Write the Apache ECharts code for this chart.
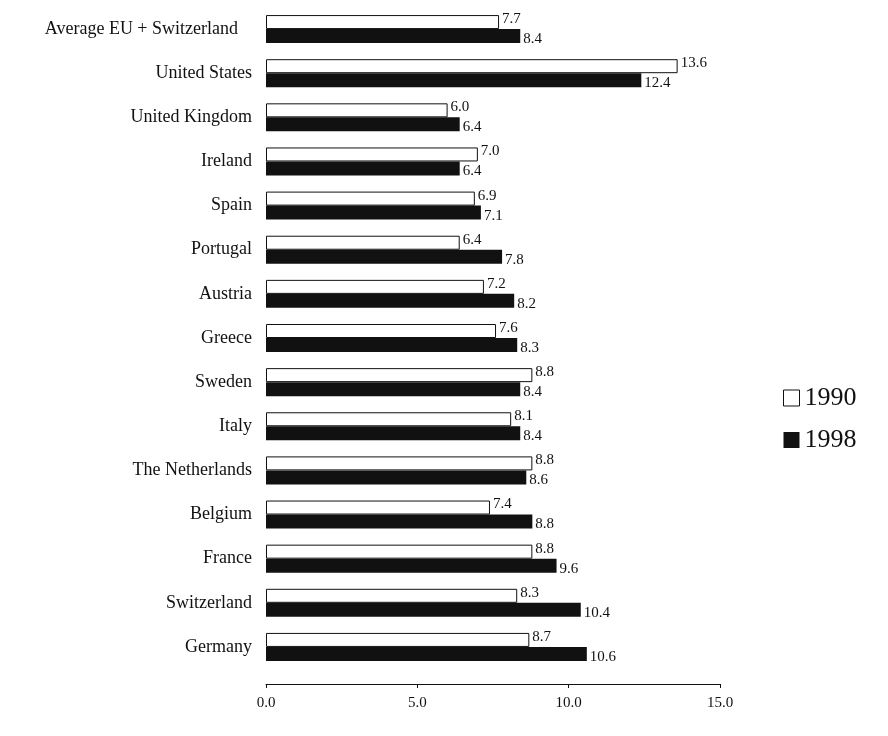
<!DOCTYPE html>
<html>
<head>
<meta charset="utf-8">
<script src="https://cdn.jsdelivr.net/npm/echarts@6/dist/echarts.min.js"></script>
<style>
  html, body { margin: 0; padding: 0; background: #fff; }
  #chart { width: 888px; height: 736px; }
</style>
</head>
<body>
<div id="chart"></div>
<script>
// 国家 (top to bottom)
var countries = ['Average EU + Switzerland', 'United States', 'United Kingdom', 'Ireland', 'Spain',
  'Portugal', 'Austria', 'Greece', 'Sweden', 'Italy', 'The Netherlands', 'Belgium',
  'France', 'Switzerland', 'Germany'];
// 1990
var values1990 = [7.7, 13.6, 6.0, 7.0, 6.9, 6.4, 7.2, 7.6, 8.8, 8.1, 8.8, 7.4, 8.8, 8.3, 8.7];
// 1998
var values1998 = [8.4, 12.4, 6.4, 6.4, 7.1, 7.8, 8.2, 8.3, 8.4, 8.4, 8.6, 8.8, 9.6, 10.4, 10.6];
var xTicks = [0, 5, 10, 15];

var font = 'Liberation Serif';
var chart = echarts.init(document.getElementById('chart'));
var option = {
  backgroundColor: '#fff',
  animation: false,
  textStyle: { fontFamily: font, color: '#111' },
  legend: {
    orient: 'vertical',
    left: 778,
    top: 380,
    itemGap: 16,
    itemWidth: 16,
    itemHeight: 16,
    textStyle: { fontFamily: font, fontSize: 26, color: '#111' },
    data: [
      { name: '1990', icon: 'rect', itemStyle: { color: '#fff', borderColor: '#111', borderWidth: 1 } },
      { name: '1998', icon: 'rect', itemStyle: { color: '#111' } }
    ]
  },
  grid: { left: 266, right: 168, top: 7, bottom: 67 },
  xAxis: {
    type: 'value',
    min: xTicks[0],
    max: xTicks[xTicks.length - 1],
    interval: 5,
    offset: 15,
    splitLine: { show: false },
    axisLine: { show: true, lineStyle: { color: '#111', width: 1 } },
    axisTick: { show: true, length: 4, lineStyle: { color: '#111' } },
    axisLabel: {
      margin: 12,
      fontSize: 15,
      color: '#111',
      fontFamily: font,
      formatter: function (v) { return v.toFixed(1); }
    }
  },
  yAxis: {
    type: 'category',
    inverse: true,
    data: countries.map(function (c, i) {
      return i === 0 ? { value: c, textStyle: { padding: [0, 14, 0, 0] } } : c;
    }),
    axisLine: { show: false },
    axisTick: { show: false },
    axisLabel: { margin: 14, fontSize: 18, color: '#111', fontFamily: font }
  },
  series: [
    {
      name: '1990',
      type: 'bar',
      data: values1990,
      barWidth: 14,
      barGap: '0%',
      itemStyle: { color: '#fff', borderColor: '#111', borderWidth: 1 },
      label: {
        show: true, position: 'right', distance: 3, offset: [0, -3],
        fontSize: 15, color: '#111', fontFamily: font,
        formatter: function (p) { return p.value.toFixed(1); }
      }
    },
    {
      name: '1998',
      type: 'bar',
      data: values1998,
      barWidth: 14,
      barGap: '0%',
      itemStyle: { color: '#111' },
      label: {
        show: true, position: 'right', distance: 3, offset: [0, 3],
        fontSize: 15, color: '#111', fontFamily: font,
        formatter: function (p) { return p.value.toFixed(1); }
      }
    }
  ]
};
chart.setOption(option);
</script>
</body>
</html>
